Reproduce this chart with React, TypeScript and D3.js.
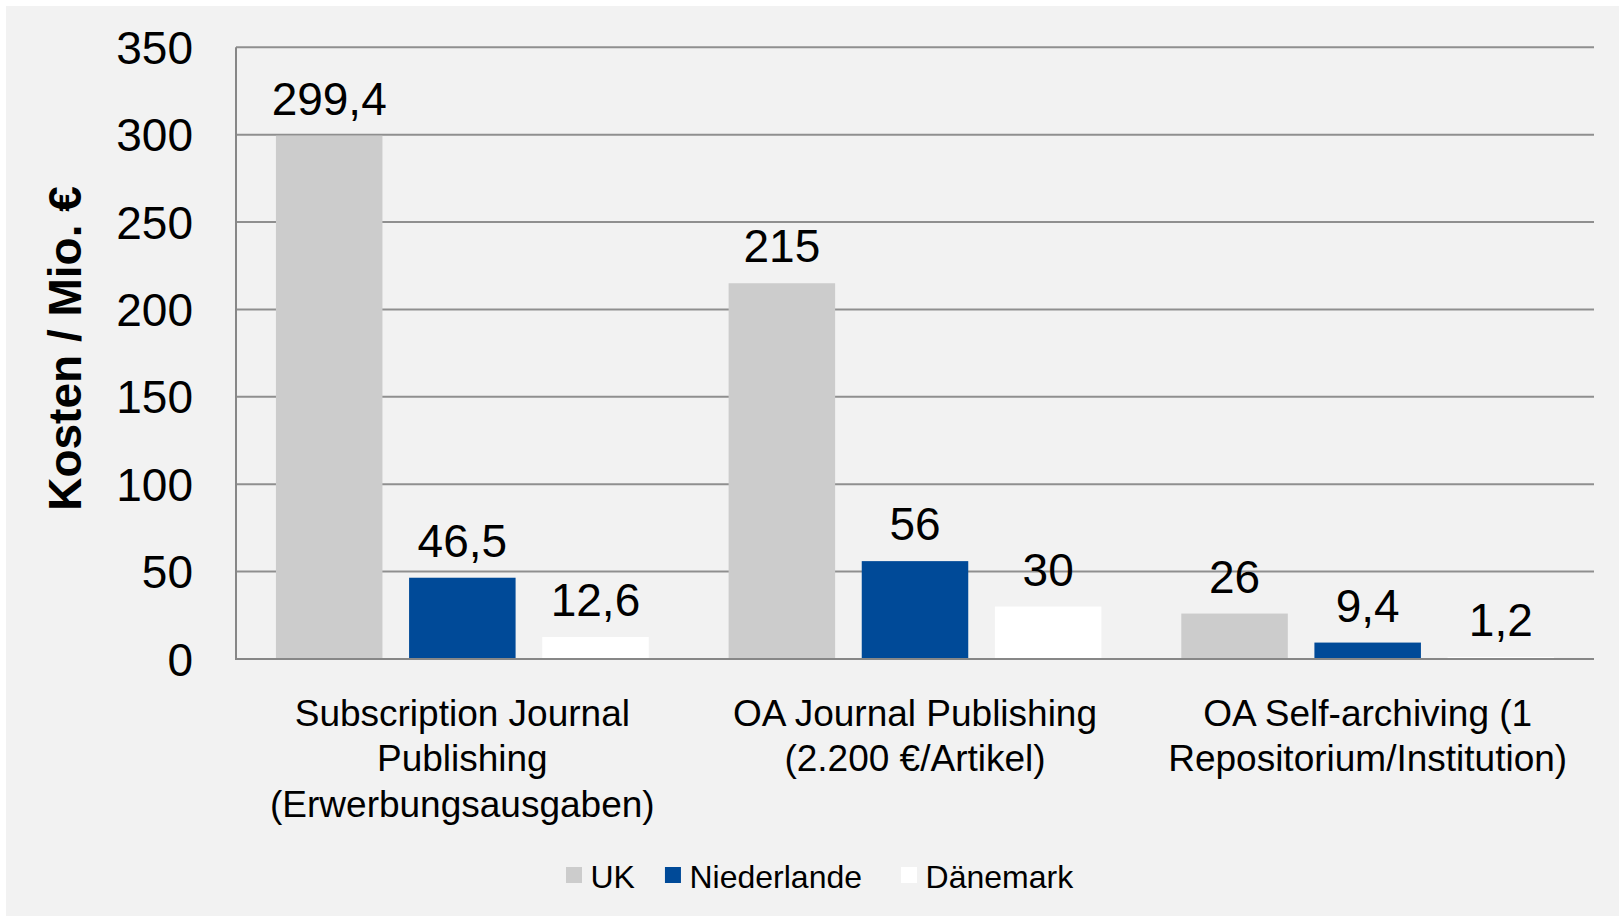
import React, { useEffect, useRef } from 'react';
import * as d3 from 'd3';

const categories = [
  ['Subscription Journal', 'Publishing', '(Erwerbungsausgaben)'],
  ['OA Journal Publishing', '(2.200 €/Artikel)'],
  ['OA Self-archiving (1', 'Repositorium/Institution)'],
];
const series = ['UK', 'Niederlande', 'Dänemark'];
const colors = ['#cccccc', '#004a98', '#ffffff'];
const ukValues = [299.4, 215, 26];
const nlValues = [46.5, 56, 9.4];
const dkValues = [12.6, 30, 1.2];
const yTicks = [0, 50, 100, 150, 200, 250, 300, 350];
const yTitle = 'Kosten / Mio. €';

const W = 1619;
const H = 916;
const FONT = "'Liberation Sans', Arial, sans-serif";

export default function App() {
  const ref = useRef<SVGSVGElement>(null);

  useEffect(() => {
    document.body.style.margin = '0';
    const svg = d3.select(ref.current);
    svg.selectAll('*').remove();

    const left = 236;
    const right = 1594;
    const top = 47.3;
    const bottom = 659;

    svg.append('rect').attr('width', W).attr('height', H).attr('fill', '#ffffff');
    svg.append('rect').attr('x', 6).attr('y', 6).attr('width', W - 6).attr('height', H - 6).attr('fill', '#f2f2f2');

    const x0 = d3.scaleBand<number>().domain(d3.range(categories.length)).range([left, right]).padding(0);
    const x1 = d3.scaleBand<number>().domain(d3.range(series.length)).range([0, x0.bandwidth()])
      .paddingInner(0.2).paddingOuter(0.3);
    const y = d3.scaleLinear().domain([0, 350]).range([bottom, top]);

    const values = [ukValues, nlValues, dkValues];

    // gridlines
    svg.append('g')
      .selectAll('line')
      .data(yTicks.filter((t) => t > 0))
      .enter()
      .append('line')
      .attr('x1', left)
      .attr('x2', right)
      .attr('y1', (d) => y(d))
      .attr('y2', (d) => y(d))
      .attr('stroke', '#8f8f8f')
      .attr('stroke-width', 2);

    // y tick labels
    svg.append('g')
      .selectAll('text')
      .data(yTicks)
      .enter()
      .append('text')
      .attr('x', left - 43)
      .attr('y', (d) => y(d))
      .attr('dy', '0.36em')
      .attr('text-anchor', 'end')
      .attr('font-family', FONT)
      .attr('font-size', 46)
      .attr('fill', '#000')
      .text((d) => d);

    // bars + value labels
    values.forEach((vals, s) => {
      const g = svg.append('g');
      g.selectAll('rect')
        .data(vals)
        .enter()
        .append('rect')
        .attr('x', (d, i) => (x0(i) as number) + (x1(s) as number))
        .attr('y', (d) => y(d))
        .attr('width', x1.bandwidth())
        .attr('height', (d) => y(0) - y(d))
        .attr('fill', colors[s]);

      g.selectAll('text')
        .data(vals)
        .enter()
        .append('text')
        .attr('x', (d, i) => (x0(i) as number) + (x1(s) as number) + x1.bandwidth() / 2)
        .attr('y', (d) => y(d) - 21)
        .attr('text-anchor', 'middle')
        .attr('font-family', FONT)
        .attr('font-size', 46)
        .attr('fill', '#000')
        .text((d) => String(d).replace('.', ','));
    });

    // axis lines
    svg.append('line')
      .attr('x1', left).attr('x2', left)
      .attr('y1', top).attr('y2', bottom)
      .attr('stroke', '#878787').attr('stroke-width', 2);
    svg.append('line')
      .attr('x1', left - 1).attr('x2', right)
      .attr('y1', bottom).attr('y2', bottom)
      .attr('stroke', '#878787').attr('stroke-width', 2);

    // category labels
    categories.forEach((lines, i) => {
      const t = svg.append('text')
        .attr('text-anchor', 'middle')
        .attr('font-family', FONT)
        .attr('font-size', 37)
        .attr('fill', '#000');
      lines.forEach((line, j) => {
        t.append('tspan')
          .attr('x', (x0(i) as number) + x0.bandwidth() / 2)
          .attr('y', bottom + 66.7 + j * 45.5)
          .text(line);
      });
    });

    // y title
    svg.append('text')
      .attr('transform', `translate(80.5, 348.5) rotate(-90)`)
      .attr('text-anchor', 'middle')
      .attr('font-family', FONT)
      .attr('font-weight', 'bold')
      .attr('font-size', 46)
      .attr('fill', '#000')
      .text(yTitle);

    // legend
    const legend = svg.append('g');
    const gaps = [30, 39];
    let lx = 566;
    series.forEach((name, i) => {
      legend.append('rect')
        .attr('x', lx)
        .attr('y', 867)
        .attr('width', 16)
        .attr('height', 16)
        .attr('fill', colors[i]);
      const txt = legend.append('text')
        .attr('x', lx + 24.5)
        .attr('y', 887.8)
        .attr('font-family', FONT)
        .attr('font-size', 32)
        .attr('fill', '#000')
        .text(name);
      const len = (txt.node() as SVGTextElement).getComputedTextLength();
      lx = lx + 24.5 + len + (gaps[i] || 0);
    });
  }, []);

  return (
    <div>
      <svg ref={ref} width={W} height={H} style={{ display: 'block' }}></svg>
    </div>
  );
}
